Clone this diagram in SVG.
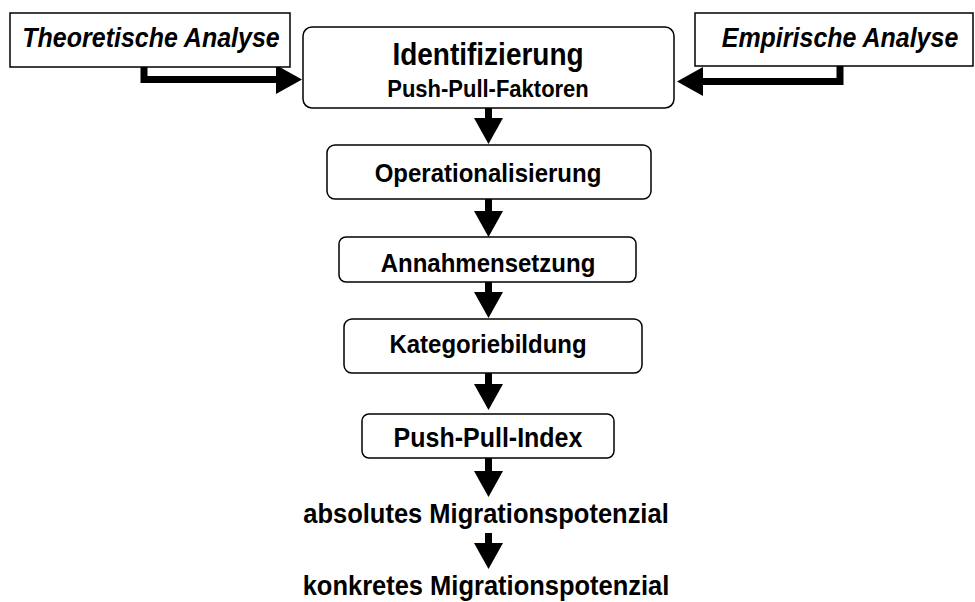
<svg xmlns="http://www.w3.org/2000/svg" width="975" height="602" viewBox="0 0 975 602">
<style>
.box{fill:#fff;stroke:#000;stroke-width:1.5}
.t{font-family:"Liberation Sans",Arial,Helvetica,sans-serif;font-weight:bold;fill:#000;text-anchor:middle}
.it{font-style:italic}
.c{fill:none;stroke:#000;stroke-width:7;stroke-linejoin:miter;stroke-linecap:butt}
</style>
<defs>
<marker id="ah" markerUnits="userSpaceOnUse" markerWidth="27" markerHeight="29" refX="0" refY="14.5" orient="auto" overflow="visible">
<path d="M0,0 L26,14.5 L0,29 Z" fill="#000"/>
</marker>
</defs>
<rect width="975" height="602" fill="#fff"/>
<g id="connectors">
<path class="c" d="M144,67 V79.5 H276" marker-end="url(#ah)"/>
<path class="c" d="M840,66 V81.5 H703" marker-end="url(#ah)"/>
<path class="c" d="M488.5,108 V118" marker-end="url(#ah)"/>
<path class="c" d="M488.5,199 V211" marker-end="url(#ah)"/>
<path class="c" d="M488.5,282 V292" marker-end="url(#ah)"/>
<path class="c" d="M488.5,373 V384" marker-end="url(#ah)"/>
<path class="c" d="M488.5,458 V471" marker-end="url(#ah)"/>
<path class="c" d="M488.5,533 V543" marker-end="url(#ah)"/>
</g>
<g id="theoretische">
<rect class="box" x="10" y="13" width="280" height="54"/>
<text class="t it" transform="translate(151,47) scale(1,1.1)" font-size="25">Theoretische Analyse</text>
</g>
<g id="empirische">
<rect class="box" x="695" y="13" width="278" height="53"/>
<text class="t it" transform="translate(840,47) scale(1,1.1)" font-size="25">Empirische Analyse</text>
</g>
<g id="identifizierung">
<rect class="box" x="303" y="27" width="371" height="81" rx="9"/>
<text class="t" transform="translate(488,65) scale(1,1.1)" font-size="28">Identifizierung</text>
<text class="t" transform="translate(488,97) scale(1,1.1)" font-size="22">Push-Pull-Faktoren</text>
</g>
<g id="operationalisierung">
<rect class="box" x="327" y="145" width="324" height="54" rx="8"/>
<text class="t" transform="translate(488,181.5) scale(1,1.1)" font-size="24">Operationalisierung</text>
</g>
<g id="annahmensetzung">
<rect class="box" x="339" y="237" width="297" height="45" rx="7"/>
<text class="t" transform="translate(488,272) scale(1,1.1)" font-size="24">Annahmensetzung</text>
</g>
<g id="kategoriebildung">
<rect class="box" x="344" y="319" width="298" height="54" rx="8"/>
<text class="t" transform="translate(488,353) scale(1,1.1)" font-size="24">Kategoriebildung</text>
</g>
<g id="pushpullindex">
<rect class="box" x="362" y="414" width="252" height="44" rx="7"/>
<text class="t" transform="translate(488,447) scale(1,1.1)" font-size="25">Push-Pull-Index</text>
</g>
<g id="absolutes">
<text class="t" transform="translate(486,523) scale(1,1.1)" font-size="25.5">absolutes Migrationspotenzial</text>
</g>
<g id="konkretes">
<text class="t" transform="translate(486,595) scale(1,1.05)" font-size="25.5">konkretes Migrationspotenzial</text>
</g>
</svg>
